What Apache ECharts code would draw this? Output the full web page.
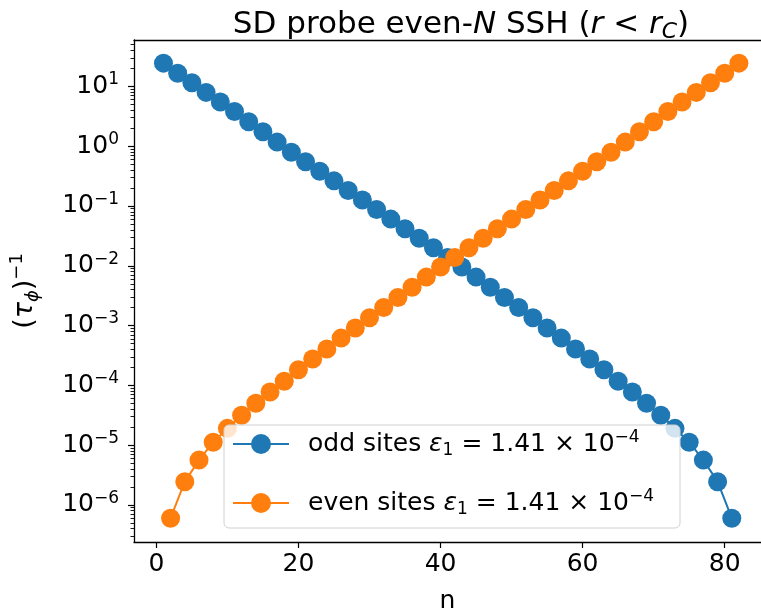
<!DOCTYPE html>
<html>
<head>
<meta charset="utf-8">
<script src="https://cdn.jsdelivr.net/npm/echarts@6/dist/echarts.min.js"></script>
<style>
  html, body { margin: 0; padding: 0; background: #fff; }
  #chart { width: 761px; height: 613px; }
</style>
</head>
<body>
<div id="chart"></div>
<script>
// site index n
const oddSites = [1, 3, 5, 7, 9, 11, 13, 15, 17, 19, 21, 23, 25, 27, 29, 31, 33, 35, 37, 39, 41,
  43, 45, 47, 49, 51, 53, 55, 57, 59, 61, 63, 65, 67, 69, 71, 73, 75, 77, 79, 81]
const evenSites = [2, 4, 6, 8, 10, 12, 14, 16, 18, 20, 22, 24, 26, 28, 30, 32, 34, 36, 38, 40, 42,
  44, 46, 48, 50, 52, 54, 56, 58, 60, 62, 64, 66, 68, 70, 72, 74, 76, 78, 80, 82]

// (tau_phi)^-1
const oddRates = [24.5, 16.6, 11.5, 7.94, 5.50, 3.80, 2.57, 1.74, 1.17, 0.794, 0.550, 0.380, 0.263,
  0.182, 0.126, 0.0871, 0.0603, 0.0417, 0.0288, 0.0200, 0.0138, 0.00955, 0.00646, 0.00437, 0.00295,
  0.00200, 0.00135, 0.000912, 0.000617, 0.000407, 0.000275, 0.000182, 0.000117, 7.76e-5, 5.01e-5,
  3.16e-5, 1.91e-5, 1.12e-5, 5.62e-6, 2.45e-6, 6.0e-7]
const evenRates = [6.0e-7, 2.45e-6, 5.62e-6, 1.12e-5, 1.91e-5, 3.16e-5, 5.01e-5, 7.76e-5, 0.000117,
  0.000182, 0.000275, 0.000407, 0.000617, 0.000912, 0.00135, 0.00200, 0.00295, 0.00437, 0.00646,
  0.00955, 0.0138, 0.0200, 0.0288, 0.0417, 0.0603, 0.0871, 0.126, 0.182, 0.263, 0.380, 0.550, 0.794,
  1.17, 1.74, 2.57, 3.80, 5.50, 7.94, 11.5, 16.6, 24.5]

const xTicks = [0, 20, 40, 60, 80]
const yTicks = [1e-6, 1e-5, 1e-4, 1e-3, 1e-2, 1e-1, 1e0, 1e1]
const yMinorTicks = []
for (let e = -7; e <= 1; e++) {
  for (let k = 2; k <= 9; k++) yMinorTicks.push(k * Math.pow(10, e))
}

const FONT = 'DejaVu Sans'
const X_MIN = -3.15
const X_MAX = 85.11
const Y_MIN = 2.4e-7
const Y_MAX = 59.7

const expLabel = (v) => {
  const e = Math.round(Math.log10(v))
  return '{b|10}{s|' + String(e).replace('-', '\u2212') + '}'
}

const legendText = {
  odd: '{lead|odd sites }{i|\u03b5}{sub|1}{t| = 1.41 \u00d7 10}{sup|\u22124}',
  even: '{lead|even sites }{i|\u03b5}{sub|1}{t| = 1.41 \u00d7 10}{sup|\u22124}'
}

const chart = echarts.init(document.getElementById('chart'))

const option = {
  animation: false,
  backgroundColor: '#fff',
  title: {
    text: '{n|SD probe even-}{i|N}{n| SSH (}{i|r}{n| < }{i|r}{ic|C}{n|)}',
    left: 456,
    textAlign: 'center',
    top: 2,
    textStyle: {
      fontWeight: 'normal',
      rich: {
        n: { fontFamily: FONT, fontSize: 31, fontWeight: 'normal', color: '#000', lineHeight: 36 },
        i: { fontFamily: FONT, fontSize: 31, fontWeight: 'normal', fontStyle: 'italic', color: '#000', lineHeight: 36 },
        ic: { fontFamily: FONT, fontSize: 22, fontWeight: 'normal', fontStyle: 'italic', color: '#000', lineHeight: 36, verticalAlign: 'bottom' }
      }
    }
  },
  grid: {
    left: 134,
    top: 40,
    right: 0,
    bottom: 71,
    outerBoundsMode: 'none'
  },
  legend: {
    orient: 'vertical',
    left: 224,
    top: 425,
    data: ['odd', 'even'],
    itemWidth: 56,
    itemHeight: 25,
    itemGap: 29,
    padding: [4, 26, 10, 8],
    backgroundColor: 'rgba(255,255,255,0.8)',
    borderColor: '#d0d0d0',
    borderWidth: 1,
    borderRadius: 5,
    formatter: (name) => legendText[name],
    textStyle: {
      rich: {
        lead: { fontFamily: FONT, fontSize: 25, color: '#000', lineHeight: 30, padding: [0, 0, 0, 14] },
        t: { fontFamily: FONT, fontSize: 25, color: '#000', lineHeight: 30 },
        i: { fontFamily: FONT, fontSize: 25, fontStyle: 'italic', color: '#000', lineHeight: 30 },
        sub: { fontFamily: FONT, fontSize: 17, color: '#000', lineHeight: 30, verticalAlign: 'bottom' },
        sup: { fontFamily: FONT, fontSize: 17, color: '#000', lineHeight: 30, verticalAlign: 'top' }
      }
    }
  },
  xAxis: [
    {
      type: 'value',
      min: X_MIN,
      max: X_MAX,
      name: 'n',
      nameLocation: 'middle',
      nameGap: 47,
      nameTextStyle: { fontFamily: FONT, fontSize: 25, color: '#000' },
      axisLine: { onZero: false, lineStyle: { color: '#000', width: 1.3 } },
      axisTick: { customValues: xTicks, length: 6, lineStyle: { color: '#000', width: 1.2 } },
      axisLabel: { customValues: xTicks, fontFamily: FONT, fontSize: 25, color: '#000', margin: 10 },
      splitLine: { show: false }
    },
    {
      // top spine only
      type: 'value',
      position: 'top',
      min: X_MIN,
      max: X_MAX,
      axisLine: { show: true, onZero: false, lineStyle: { color: '#000', width: 1.3 } },
      axisTick: { show: false },
      axisLabel: { show: false },
      splitLine: { show: false }
    }
  ],
  yAxis: [
    {
      type: 'log',
      min: Y_MIN,
      max: Y_MAX,
      name: '{p|(}{i|\u03c4}{sub|\u03d5}{p|)}{sup|\u22121}',
      nameLocation: 'middle',
      nameRotate: 90,
      nameGap: 92,
      nameTextStyle: {
        rich: {
          p: { fontFamily: FONT, fontSize: 27, color: '#000', lineHeight: 34 },
          i: { fontFamily: FONT, fontSize: 27, fontStyle: 'italic', color: '#000', lineHeight: 34 },
          sub: { fontFamily: FONT, fontSize: 18, fontStyle: 'italic', color: '#000', lineHeight: 34, verticalAlign: 'bottom' },
          sup: { fontFamily: FONT, fontSize: 18, color: '#000', lineHeight: 34, verticalAlign: 'top' }
        }
      },
      axisLine: { show: true, onZero: false, lineStyle: { color: '#000', width: 1.3 } },
      axisTick: { show: true, customValues: yTicks, length: 6, lineStyle: { color: '#000', width: 1.2 } },
      axisLabel: {
        customValues: yTicks,
        margin: 15,
        formatter: expLabel,
        rich: {
          b: { fontFamily: FONT, fontSize: 25, color: '#000', lineHeight: 30 },
          s: { fontFamily: FONT, fontSize: 17, color: '#000', lineHeight: 30, verticalAlign: 'top' }
        }
      },
      splitLine: { show: false }
    },
    {
      // minor log ticks, moved over onto the left spine
      type: 'log',
      min: Y_MIN,
      max: Y_MAX,
      position: 'right',
      offset: -627,
      axisLine: { show: false, onZero: false },
      axisTick: { show: true, inside: true, customValues: yMinorTicks, length: 3.5, lineStyle: { color: '#000', width: 0.9 } },
      axisLabel: { show: false },
      splitLine: { show: false }
    }
  ],
  series: [
    {
      name: 'odd',
      type: 'line',
      data: oddSites.map((n, i) => [n, oddRates[i]]),
      symbol: 'circle',
      symbolSize: 19,
      color: '#1f77b4',
      lineStyle: { width: 2, color: '#1f77b4' },
      itemStyle: { color: '#1f77b4' }
    },
    {
      name: 'even',
      type: 'line',
      data: evenSites.map((n, i) => [n, evenRates[i]]),
      symbol: 'circle',
      symbolSize: 19,
      color: '#ff7f0e',
      lineStyle: { width: 2, color: '#ff7f0e' },
      itemStyle: { color: '#ff7f0e' }
    }
  ]
}

chart.setOption(option)
</script>
</body>
</html>
